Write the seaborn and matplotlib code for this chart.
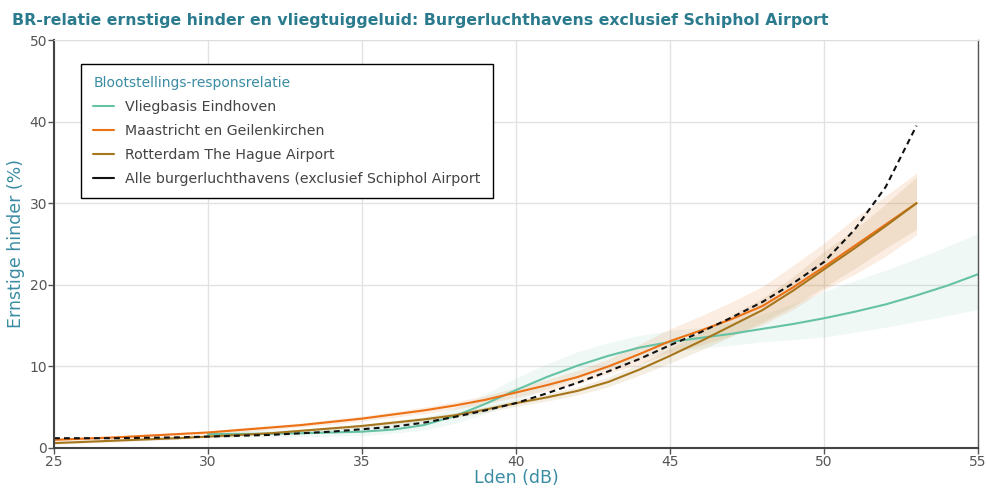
import numpy as np
import pandas as pd
import seaborn as sns
from matplotlib import pyplot as plt
from matplotlib.lines import Line2D

# Lden (dB)
lden_a = list(range(25, 54))
lden_e = list(range(30, 56))

eindhoven = [1.7, 1.72, 1.75, 1.8, 1.9, 2.0, 2.25, 2.8, 3.9, 5.4, 7.1, 8.7, 10.1, 11.3, 12.3, 13.0,
             13.5, 14.0, 14.6, 15.2, 15.9, 16.7, 17.6, 18.7, 19.9, 21.3]
eindhoven_lo = [1.3, 1.32, 1.35, 1.4, 1.45, 1.5, 1.8, 2.2, 3.0, 4.2, 5.8, 7.3, 8.6, 9.7, 10.9, 11.8,
                12.2, 12.6, 13.0, 13.3, 13.6, 14.2, 14.8, 15.5, 16.2, 17.0]
eindhoven_hi = [2.1, 2.15, 2.2, 2.3, 2.4, 2.6, 3.0, 3.7, 4.9, 6.6, 8.6, 10.3, 11.8, 12.9, 13.8, 14.4,
                14.8, 15.4, 16.4, 17.7, 19.2, 20.5, 21.8, 23.2, 24.7, 26.3]

maastricht = [1.0, 1.15, 1.3, 1.5, 1.7, 1.9, 2.2, 2.5, 2.8, 3.2, 3.6, 4.1, 4.6, 5.2, 5.9, 6.8, 7.7,
              8.7, 10.0, 11.5, 13.1, 14.4, 15.8, 17.4, 19.7, 22.2, 24.8, 27.4, 30.0]
maastricht_lo = [0.8, 0.95, 1.1, 1.3, 1.5, 1.7, 1.95, 2.25, 2.55, 2.9, 3.3, 3.75, 4.2, 4.75, 5.4,
                 6.2, 7.0, 7.9, 9.1, 10.3, 11.6, 12.6, 13.8, 15.1, 17.0, 19.4, 21.3, 23.5, 26.1]
maastricht_hi = [1.2, 1.35, 1.5, 1.7, 1.9, 2.1, 2.45, 2.75, 3.05, 3.5, 3.9, 4.45, 5.0, 5.65, 6.4,
                 7.4, 8.4, 9.5, 10.9, 12.7, 14.6, 16.2, 17.9, 19.8, 22.4, 25.1, 28.2, 30.9, 33.7]

rotterdam = [0.6, 0.75, 0.9, 1.05, 1.2, 1.4, 1.6, 1.8, 2.1, 2.4, 2.7, 3.1, 3.5, 4.0, 4.7, 5.5, 6.2,
             7.0, 8.1, 9.6, 11.3, 13.1, 15.0, 16.9, 19.3, 21.9, 24.5, 27.2, 30.0]
rotterdam_lo = [0.45, 0.6, 0.75, 0.9, 1.05, 1.25, 1.45, 1.65, 1.9, 2.2, 2.5, 2.85, 3.2, 3.7, 4.35,
                5.1, 5.75, 6.5, 7.5, 8.9, 10.4, 12.0, 13.7, 15.4, 17.4, 19.7, 22.0, 24.5, 26.8]
rotterdam_hi = [0.75, 0.9, 1.05, 1.2, 1.35, 1.55, 1.75, 1.95, 2.3, 2.6, 2.9, 3.35, 3.8, 4.3, 5.05,
                5.9, 6.65, 7.5, 8.7, 10.3, 12.2, 14.2, 16.3, 18.4, 21.0, 24.1, 26.8, 29.9, 33.2]

alle = [1.2, 1.2, 1.2, 1.25, 1.3, 1.4, 1.5, 1.6, 1.8, 2.0, 2.3, 2.6, 3.1, 3.8, 4.6, 5.5, 6.7, 8.0,
        9.4, 10.9, 12.6, 14.2, 16.0, 17.9, 20.2, 22.8, 26.8, 32.0, 39.5]

names = ["Vliegbasis Eindhoven", "Maastricht en Geilenkirchen", "Rotterdam The Hague Airport",
         "Alle burgerluchthavens (exclusief Schiphol Airport"]
colors = ["#66c2a5", "#ec7014", "#a6761d", "#111111"]

df = pd.concat([
    pd.DataFrame({"Lden": lden_e, "hinder": eindhoven, "groep": names[0]}),
    pd.DataFrame({"Lden": lden_a, "hinder": maastricht, "groep": names[1]}),
    pd.DataFrame({"Lden": lden_a, "hinder": rotterdam, "groep": names[2]}),
    pd.DataFrame({"Lden": lden_a, "hinder": alle, "groep": names[3]}),
])

sns.set_style("white")
plt.rcParams["font.family"] = ["DejaVu Sans"]

fig = plt.figure(figsize=(9.87, 4.88), dpi=100)
ax = fig.add_axes([0.0547, 0.082, 0.9363, 0.836])

# betrouwbaarheidsbanden
ax.fill_between(lden_e, eindhoven_lo, eindhoven_hi, color=colors[0], alpha=0.1, lw=0)
ax.fill_between(lden_a, maastricht_lo, maastricht_hi, color=colors[1], alpha=0.12, lw=0)
ax.fill_between(lden_a, rotterdam_lo, rotterdam_hi, color=colors[2], alpha=0.12, lw=0)

sns.lineplot(data=df, x="Lden", y="hinder", hue="groep", style="groep",
             palette=dict(zip(names, colors)),
             dashes={names[0]: "", names[1]: "", names[2]: "", names[3]: (2.8, 2.0)},
             linewidth=1.5, legend=False, ax=ax)

ax.set_xlim(25, 55)
ax.set_ylim(0, 50)
ax.set_xticks(range(25, 56, 5))
ax.set_yticks(range(0, 51, 10))
ax.grid(color="#e2e2e2", linewidth=1)
ax.set_axisbelow(True)

for side in ["left", "bottom"]:
    ax.spines[side].set_color("#444444")
    ax.spines[side].set_linewidth(1.5)
ax.spines["top"].set_color("#dddddd")
ax.spines["right"].set_color("#555555")
ax.spines["right"].set_linewidth(1)

ax.tick_params(axis="both", labelsize=10, colors="#555555", length=4, width=1, direction="out",
               bottom=True, left=True, pad=1)
ax.set_xlabel("Lden (dB)", fontsize=12.5, color="#3a8ca3", labelpad=0)
ax.set_ylabel("Ernstige hinder (%)", fontsize=12.5, color="#3a8ca3", labelpad=3)

fig.text(0.012, 0.958, "BR-relatie ernstige hinder en vliegtuiggeluid: Burgerluchthavens exclusief Schiphol Airport",
         fontsize=11.3, fontweight="bold", color="#2b7b8e", va="center")

handles = [Line2D([0], [0], color=c, lw=1.5) for c in colors]
leg = ax.legend(handles, names, title="Blootstellings-responsrelatie", loc="upper left",
                bbox_to_anchor=(0.0295, 0.941), fontsize=10.2, title_fontsize=10,
                frameon=True, fancybox=False, edgecolor="black", framealpha=1,
                handlelength=1.45, handletextpad=0.8, labelspacing=0.7, borderpad=0.85,
                borderaxespad=0, alignment="left")
leg.get_frame().set_linewidth(1)
leg.get_title().set_color("#3a8ca3")
for t in leg.get_texts():
    t.set_color("#444444")

fig.savefig("out.png", dpi=100)
